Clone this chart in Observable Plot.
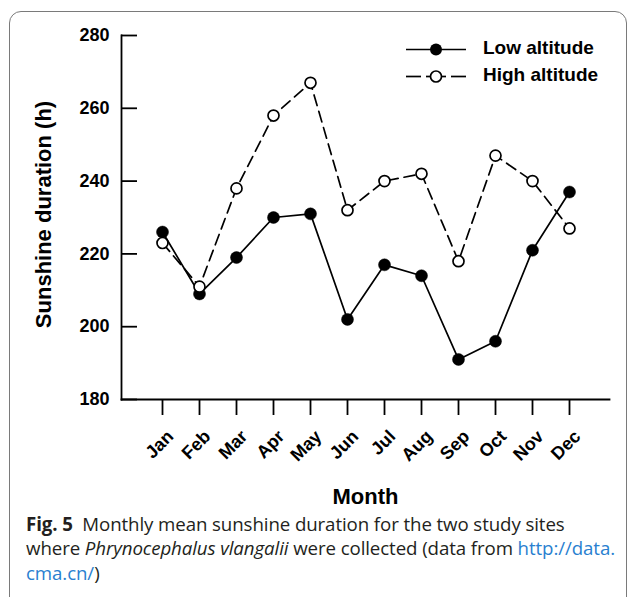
<!DOCTYPE html>
<html>
<head>
<meta charset="utf-8">
<script src="https://cdn.jsdelivr.net/npm/d3@7"></script>
<script src="https://cdn.jsdelivr.net/npm/@observablehq/plot@0.6"></script>
<style>
  html, body { margin: 0; padding: 0; background: #fff; }
  body { width: 629px; height: 597px; position: relative; overflow: hidden; }
  #box { position: absolute; left: 9px; top: 11px; width: 618px; height: 620px; box-sizing: border-box;
         border: 1.3px solid #7a7a7a; border-radius: 12px; }
  #chart { position: absolute; left: 0; top: 0; }
  #legend { position: absolute; left: 400px; top: 36px; font-family: "Liberation Sans", Arial, sans-serif;
            font-weight: bold; font-size: 19px; color: #000; }
  .lrow { position: relative; height: 26.5px; }
  .lrow svg { position: absolute; left: 0; top: 0; }
  .lrow span { position: absolute; left: 83px; top: 1px; white-space: nowrap; }
  #caption { position: absolute; left: 26px; top: 512px; width: 600px; font-family: "Open Sans", sans-serif;
             font-size: 18.7px; line-height: 24.3px; color: #231f20; white-space: nowrap; letter-spacing: -0.1px; }
  #caption b { font-weight: 700; }
  #caption a { color: #2a7fd0; text-decoration: none; }
</style>
</head>
<body>
<div id="box"></div>
<div id="chart"></div>
<div id="legend"></div>
<div id="caption">
  <b>Fig. 5</b>&nbsp; Monthly mean sunshine duration for the two study sites<br>
  where <i>Phrynocephalus vlangalii</i> were collected (data from <a>http://data.</a><br>
  <a>cma.cn/</a>)
</div>
<script>
const months = ["Jan","Feb","Mar","Apr","May","Jun","Jul","Aug","Sep","Oct","Nov","Dec"];
const lowAltitude  = [226, 209, 219, 230, 231, 202, 217, 214, 191, 196, 221, 237];
const highAltitude = [223, 211, 238, 258, 267, 232, 240, 242, 218, 247, 240, 227];
const yTicks = [180, 200, 220, 240, 260, 280];
const seriesNames = ["Low altitude", "High altitude"];

const data = months.map((m, i) => ({month: m, low: lowAltitude[i], high: highAltitude[i]}));

const W = 629, H = 515, ML = 121, MR = 20, MT = 35, MB = 116;
const font = "'Liberation Sans', Arial, sans-serif";

const chart = Plot.plot({
  width: W, height: H,
  marginLeft: ML, marginRight: MR, marginTop: MT, marginBottom: MB,
  style: {fontFamily: font, background: "transparent", color: "#000"},
  x: {type: "point", domain: months, padding: 1, label: null},
  y: {domain: [180, 280], label: null},
  marks: [
    Plot.ruleY(yTicks, {y: d => d, insetRight: (W - ML - MR) - 16, stroke: "#000", strokeWidth: 1.8}),
    Plot.frame({anchor: "left", stroke: "#000", strokeWidth: 1.8}),
    Plot.frame({anchor: "bottom", stroke: "#000", strokeWidth: 1.8}),
    Plot.axisY({ticks: yTicks, tickSize: 0, tickPadding: 12, fontSize: 18, fontWeight: "bold", label: null}),
    Plot.axisX({tickSize: 16, tickFormat: () => "", label: null, strokeWidth: 1.8}),
    Plot.text(months, {x: d => d, frameAnchor: "bottom", rotate: -45, textAnchor: "end", lineAnchor: "middle",
                       dx: 8, dy: 34, fontSize: 18, fontWeight: "bold"}),
    Plot.text(["Month"], {frameAnchor: "bottom", lineAnchor: "bottom", dy: 104, fontSize: 22, fontWeight: "bold"}),
    Plot.text(["Sunshine duration (h)"], {frameAnchor: "left", textAnchor: "middle", lineAnchor: "middle",
                                          rotate: -90, dx: -78, dy: -3, fontSize: 22, fontWeight: "bold"}),
    Plot.line(data, {x: "month", y: "low", stroke: "#000", strokeWidth: 1.7}),
    Plot.dot(data, {x: "month", y: "low", r: 6, fill: "#000", stroke: "#000", strokeWidth: 0.5}),
    Plot.line(data, {x: "month", y: "high", stroke: "#000", strokeWidth: 1.7, strokeDasharray: "11,6"}),
    Plot.dot(data, {x: "month", y: "high", r: 5.5, fill: "#fff", stroke: "#000", strokeWidth: 1.7})
  ]
});
document.getElementById("chart").appendChild(chart);

// legend
const legend = document.getElementById("legend");
seriesNames.forEach((name, i) => {
  const row = document.createElement("div");
  row.className = "lrow";
  const sym = i === 0
    ? `<svg width="70" height="27"><line x1="6" y1="13.5" x2="66" y2="13.5" stroke="#000" stroke-width="1.7"/><circle cx="36" cy="13.5" r="6" fill="#000"/></svg>`
    : `<svg width="70" height="27"><line x1="6" y1="13.5" x2="21" y2="13.5" stroke="#000" stroke-width="1.7"/><line x1="51" y1="13.5" x2="66" y2="13.5" stroke="#000" stroke-width="1.7"/><line x1="26" y1="13.5" x2="46" y2="13.5" stroke="#000" stroke-width="1.7"/><circle cx="36" cy="13.5" r="5.5" fill="#fff" stroke="#000" stroke-width="1.7"/></svg>`;
  row.innerHTML = sym + `<span>${name}</span>`;
  legend.appendChild(row);
});
</script>
</body>
</html>
